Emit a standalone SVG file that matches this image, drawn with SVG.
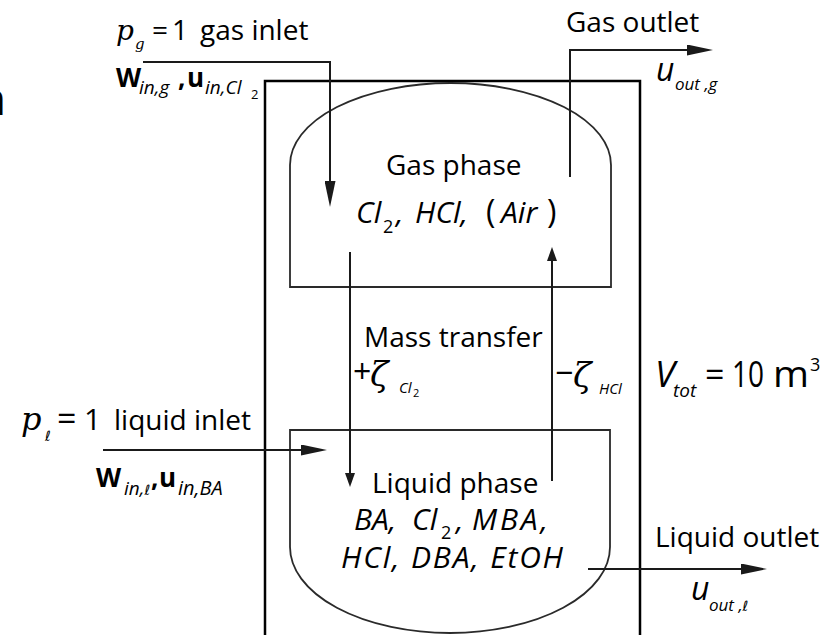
<svg xmlns="http://www.w3.org/2000/svg" width="831" height="635" viewBox="0 0 831 635">
<style>
text{font-family:"Open Sans","Liberation Sans",sans-serif;font-size:28px;fill:#000}
.it{font-style:italic}
.mi{font-family:"DejaVu Serif","Liberation Serif",serif;font-style:italic;font-size:28px}
.sub{font-size:19px;font-style:italic}
.ssub{font-size:15px;font-style:italic}
.num{font-size:18px;font-style:normal}
.ell{font-family:"DejaVu Sans",sans-serif;font-style:italic;font-size:14px}
.b{font-weight:bold;font-size:26px}
.chem{font-style:italic;font-size:30px}
.vessel{fill:none;stroke:#000;stroke-width:2.5}
.phase{fill:none;stroke:#2a2a2a;stroke-width:1.8}
.conn{fill:none;stroke:#1a1a1a;stroke-width:2}
</style>
<defs>
<marker id="ah" viewBox="0 0 26 11" markerUnits="userSpaceOnUse" markerWidth="26" markerHeight="11" refX="2" refY="5.5" orient="auto">
<path d="M0,0 L26,5.5 L0,11 Z" fill="#1a1a1a"/>
</marker>
<marker id="ahs" viewBox="0 0 14 10" markerUnits="userSpaceOnUse" markerWidth="14" markerHeight="10" refX="2" refY="5" orient="auto">
<path d="M0,0 L14,5 L0,10 Z" fill="#1a1a1a"/>
</marker>
</defs>

<text x="-22" y="115" style="font-size:46px">n</text>

<g id="vessel">
<path class="vessel" d="M265,636 V81 H640 V636"/>
<text x="655" y="387" class="it" style="font-size:36px">V</text>
<text x="673" y="397" class="sub">tot</text>
<text x="705" y="387" style="font-size:34px">=</text>
<text x="732" y="387" style="font-size:36px" textLength="32" lengthAdjust="spacingAndGlyphs">10</text>
<text x="773" y="387" style="font-size:36px" textLength="36" lengthAdjust="spacingAndGlyphs">m</text>
<text x="810" y="371" class="num">3</text>
</g>

<g id="gas-phase">
<path class="phase" d="M290,287 V165 A160.5,82 0 0 1 611,165 V287 Z"/>
<text x="386" y="175">Gas phase</text>
<text y="223" class="chem"><tspan x="356">Cl</tspan><tspan x="383" y="233" class="num">2</tspan><tspan x="396" y="223">,</tspan><tspan x="415">HCl,</tspan><tspan x="486" style="font-style:normal;font-size:32px">(</tspan><tspan x="501">Air</tspan><tspan x="547" style="font-style:normal;font-size:32px">)</tspan></text>
</g>

<g id="liquid-phase">
<path class="phase" d="M290,430 H610 V547 A160,86 0 0 1 290,547 Z"/>
<text x="372" y="493">Liquid phase</text>
<text y="530" class="chem"><tspan x="354">BA,</tspan><tspan x="412">Cl</tspan><tspan x="441" y="539" class="num">2</tspan><tspan x="456" y="530">,</tspan><tspan x="472" textLength="76" lengthAdjust="spacing">MBA,</tspan></text>
<text x="341" y="568" class="chem" textLength="222" lengthAdjust="spacing">HCl, DBA, EtOH</text>
</g>

<g id="gas-inlet">
<text x="116" y="40" class="mi">p</text>
<text x="135" y="49" class="ssub" style="font-family:'DejaVu Serif',serif">g</text>
<text x="152" y="40">=</text>
<text x="172" y="40">1</text>
<text x="200" y="40">gas inlet</text>
<text x="116" y="87" class="b">W</text>
<text x="139" y="94" class="sub">in,g</text>
<text x="178" y="87" class="b">,</text>
<text x="187" y="87" class="b">u</text>
<text x="205" y="94" class="sub">in,Cl</text>
<text x="251" y="99" style="font-size:13px">2</text>
</g>

<g id="gas-outlet">
<text x="566" y="32">Gas outlet</text>
<text x="656" y="81" class="it" style="font-size:32px">u</text>
<text x="675" y="90" class="sub" style="font-size:17px">out ,g</text>
</g>

<g id="liquid-inlet">
<text x="21" y="430" class="mi" style="font-size:32px">p</text>
<text x="45" y="441" class="ell">ℓ</text>
<text x="57" y="431" style="font-size:34px">=</text>
<text x="84" y="430" style="font-size:30px">1</text>
<text x="114" y="430">liquid inlet</text>
<text x="96" y="487" class="b">W</text>
<text x="124" y="495" class="sub">in,<tspan class="ell">ℓ</tspan></text>
<text x="151" y="487" class="b">,</text>
<text x="159" y="487" class="b">u</text>
<text x="178" y="495" class="sub" style="font-size:20px">in,BA</text>
</g>

<g id="liquid-outlet">
<text x="655" y="547">Liquid outlet</text>
<text x="691" y="600" class="it" style="font-size:32px">u</text>
<text x="709" y="611" class="sub" style="font-size:17px">out ,<tspan class="ell">ℓ</tspan></text>
</g>

<g id="mass-transfer">
<text x="364" y="347">Mass transfer</text>
<text x="353" y="383" style="font-size:32px">+</text>
<text x="370" y="386" class="mi" style="font-size:34px">ζ</text>
<text x="399" y="393" class="ssub">Cl</text>
<text x="413" y="397" style="font-size:11px">2</text>
<text x="555" y="384" style="font-size:32px">−</text>
<text x="573" y="387" class="mi" style="font-size:34px">ζ</text>
<text x="599" y="394" class="ssub">HCl</text>
</g>

<g id="connectors">
<path class="conn" d="M143,62 H330 V183" marker-end="url(#ah)"/>
<path class="conn" d="M570,177 V50 H689" marker-end="url(#ah)"/>
<path class="conn" d="M350,252 V475" marker-end="url(#ahs)"/>
<path class="conn" d="M552,481 V259" marker-end="url(#ahs)"/>
<path class="conn" d="M103,450 H303" marker-end="url(#ah)"/>
<path class="conn" d="M588,569 H743" marker-end="url(#ah)"/>
</g>
</svg>
